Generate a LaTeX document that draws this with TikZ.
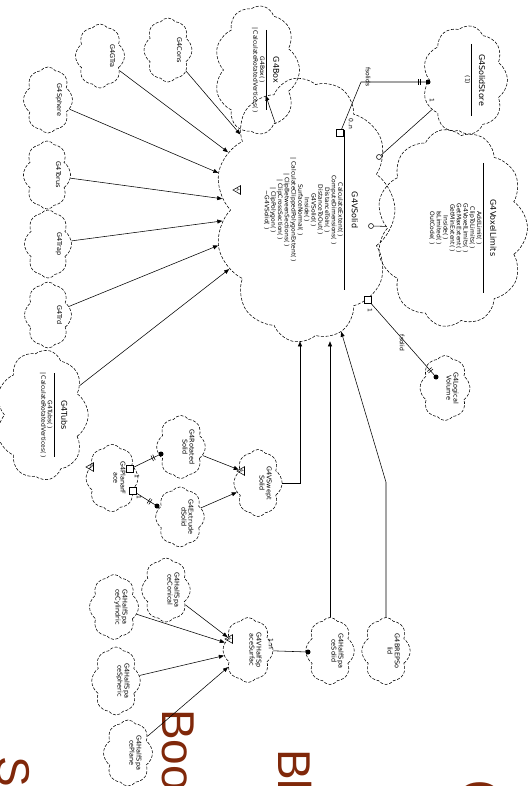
\documentclass[tikz,border=0pt]{standalone}
\usepackage{fontspec}
\setmainfont{DejaVu Sans}
\newfontfamily\titlefont{Liberation Sans}
\usetikzlibrary{shapes.symbols,shapes.geometric,arrows.meta,decorations.markings}
\definecolor{titlebrown}{RGB}{128,40,10}
\newcommand{\opsize}{\fontsize{6}{6.7}\selectfont}
\newcommand{\nmsize}{\fontsize{8}{9}\selectfont}
\newcommand{\lift}[1]{\\[#1]\mbox{}}

\begin{document}
\begin{tikzpicture}[x=1pt,y=-1pt,->,>={Triangle[length=5pt,width=4pt]},line width=0.55pt,
   cls/.style={cloud,draw,dash pattern=on 3pt off 1.6pt,cloud puffs=8,cloud puff arc=110,
     cloud ignores aspect,inner sep=1pt,align=center,rotate=-90,font=\fontsize{6.5}{7.2}\selectfont},
   big/.style={cloud puffs=11,font=\opsize},
   dims/.style 2 args={minimum width=#2,minimum height=#1},
   abstr/.style={draw,solid,regular polygon,regular polygon sides=3,shape border rotate=180,
     rotate=-90,inner sep=0pt,minimum size=10pt,font=\fontsize{4}{4}\selectfont},
   bysq/.style={draw,fill=white,rectangle,minimum size=7pt,inner sep=0pt},
   usecirc/.style={draw,fill=white,circle,minimum size=5pt,inner sep=0pt},
   hasdot/.style={fill,circle,minimum size=5pt,inner sep=0pt},
   has/.style={postaction={decorate,decoration={markings,mark=at position -5pt with
     {\draw[-] (0,-3pt) -- (0,3pt) (-2pt,-3pt) -- (-2pt,3pt);}}}},
   lbl/.style={rotate=-90,font=\fontsize{6}{6.5}\selectfont,inner sep=0.5pt},
   title/.style={rotate=-90,anchor=base west,inner sep=0pt,text=titlebrown,
     font=\titlefont\fontsize{46}{46}\selectfont}]
\useasboundingbox (0,0) rectangle (528,786);
\clip (0,0) rectangle (528,786);

\node[title] (t1) at (162,709) {Boo};
\node[title] (t2) at (278,749) {Bl};
\node[title] (t3) at (-2,756) {S};
\node[title,font=\titlefont\fontsize{62}{62}\selectfont] (t4) at (458,779) {C};

\node[cls,big,dims={160pt}{265pt}] (vsolid) at (305,210) {{\nmsize G4VSolid}\\[1pt]\rule{160pt}{0.5pt}\\[-1pt]CalculateExtent( )\\ComputeDimensions( )\\DistanceToIn( )\\DistanceToOut( )\\G4VSolid( )\\Inside( )\\SurfaceNormal( )\\| CalculateClippedPolygonExtent( )\\| ClipBetweenSections( )\\| ClipCrossSection( )\\| ClipPolygon( )\\\textasciitilde G4VSolid( )\lift{6pt}};
\node[cls,big,dims={135pt}{185pt}] (voxel) at (452,228) {{\nmsize G4VoxelLimits}\\[1pt]\rule{130pt}{0.5pt}\\[-1pt]AddLimit( )\\ClipToLimits( )\\G4VoxelLimits( )\\GetMaxExtent( )\\GetMinExtent( )\\Inside( )\\IsLimited( )\\OutCode( )\lift{16pt}};
\node[cls,big,cloud puffs=9,dims={85pt}{100pt}] (store) at (465,80) {{\nmsize G4SolidStore}\\[1pt]\rule{72pt}{0.5pt}\\[-1pt](1)\lift{14pt}};
\node[cls,dims={50pt}{65pt}] (logvol) at (445,388) {G4Logical\\Volume\lift{8pt}};

\node[cls,big,cloud puffs=9,dims={85pt}{112pt}] (box) at (257,70) {{\nmsize G4Box}\\[1pt]\rule{80pt}{0.5pt}\\[-1pt]G4Box( )\\| CalculateRotatedVertices( )\lift{12pt}};
\node[cls,dims={48pt}{64pt}] (cons) at (168,50) {G4Cons\lift{16pt}};
\node[cls,dims={46pt}{64pt}] (gtra) at (100,56) {G4GTra\lift{18pt}};
\node[cls,dims={47pt}{66pt}] (sphere) at (48,100) {G4Sphere\lift{16pt}};
\node[cls,dims={47pt}{68pt}] (torus) at (47,175) {G4Torus\lift{16pt}};
\node[cls,dims={47pt}{68pt}] (trap) at (48,244) {G4Trap\lift{16pt}};
\node[cls,dims={47pt}{66pt}] (trd) at (48,315) {G4Trd\lift{16pt}};
\node[cls,big,cloud puffs=9,dims={84pt}{112pt}] (tubs) at (42,415) {{\nmsize G4Tubs}\\[1pt]\rule{84pt}{0.5pt}\\[-1pt]G4Tubs( )\\| CalculateRotatedVertices( )\lift{18pt}};

\node[cls,dims={45pt}{67pt}] (swept) at (258,483) {G4VSwept\\Solid\lift{8pt}};
\node[cls,dims={48pt}{63pt}] (rotated) at (181,447) {G4Rotated\\Solid\lift{8pt}};
\node[cls,dims={46pt}{60pt}] (extruded) at (180,517) {G4Extrude\\dSolid\lift{8pt}};
\node[cls,dims={52pt}{67pt}] (planar) at (112,478) {G4PlanarF\\ace\lift{8pt}};

\node[cls,dims={46pt}{67pt}] (hssolid) at (330,651) {G4HalfSpa\\ceSolid\lift{8pt}};
\node[cls,dims={48pt}{67pt}] (brep) at (386,651) {G4BREPSo\\lid\lift{8pt}};
\node[cls,dims={50pt}{65pt}] (hssurf) at (248,650) {G4VHalfSp\\aceSurfac\lift{8pt}};
\node[cls,dims={43pt}{64pt}] (hscon) at (166,590) {G4HalfSpa\\ceConical\lift{8pt}};
\node[cls,dims={48pt}{65pt}] (hscyl) at (114,607) {G4HalfSpa\\ceCylindric\lift{8pt}};
\node[cls,dims={48pt}{68pt}] (hssph) at (116,681) {G4HalfSpa\\ceSpheric\lift{8pt}};
\node[cls,dims={49pt}{66pt}] (hsplane) at (128,753) {G4HalfSpa\\cePlane\lift{8pt}};

\node[abstr] (abs1) at (238,190) {A};
\node[abstr] (abs2) at (242,471) {A};
\node[abstr] (abs3) at (91,467) {A};
\node[abstr] (abs4) at (230,639) {A};

\path
 (box) edge (vsolid)
 (cons) edge (vsolid)
 (gtra) edge (vsolid)
 (sphere) edge (vsolid)
 (torus) edge (vsolid)
 (trap) edge (vsolid)
 (trd) edge (vsolid)
 (tubs) edge (vsolid)
 (rotated) edge (abs2)
 (extruded) edge (swept)
 (hscon) edge (abs4)
 (hscyl) edge (hssurf)
 (hssph) edge (hssurf)
 (hsplane) edge (hssurf);
\draw (swept.north) -| ([xshift=-5pt]vsolid.east);
\draw (hssolid.west) -- (hssolid.west |- vsolid.east);
\draw (brep.west) -- ++(0,-135) -- (vsolid);

\node[bysq] (sq1) at (340,133) {};
\node[usecirc] (oc1) at (379,157) {};
\node[usecirc] (oc2) at (371,226) {};
\node[bysq] (sq2) at (368,300) {};
\node[hasdot] (hd1) at (428,82) {};
\node[hasdot] (hd2) at (436,377) {};
\coordinate (bend1) at (361,82);
\draw[-,has] (sq1) -- (bend1) -- (hd1);
\draw[-] (oc1) -- (store);
\draw[-] (oc2) -- (voxel);
\draw[-,has] (sq2) -- (hd2);
\node[lbl] (m1) at (351,124) {0..n};
\node[lbl] (r1) at (368,77) {fsolids};
\node[lbl] (m2) at (432,100) {1};
\node[lbl] (m3) at (370,310) {1};
\node[lbl] (r2) at (402,343) {fsolid};

\node[bysq] (sq3) at (130,469) {};
\node[bysq] (sq4) at (133,491) {};
\node[hasdot] (hd3) at (161,454) {};
\node[hasdot] (hd4) at (157,506) {};
\draw[-,has] (sq3) -- (hd3);
\draw[-,has] (sq4) -- (hd4);
\node[lbl] (m4) at (137,476) {1};
\node[lbl] (m5) at (139,497) {1};

\node[hasdot] (hd5) at (308,652) {};
\draw[-] (hssurf) -- (hd5);
\node[lbl] (m6) at (271,644) {1..n};
\end{tikzpicture}
\end{document}
